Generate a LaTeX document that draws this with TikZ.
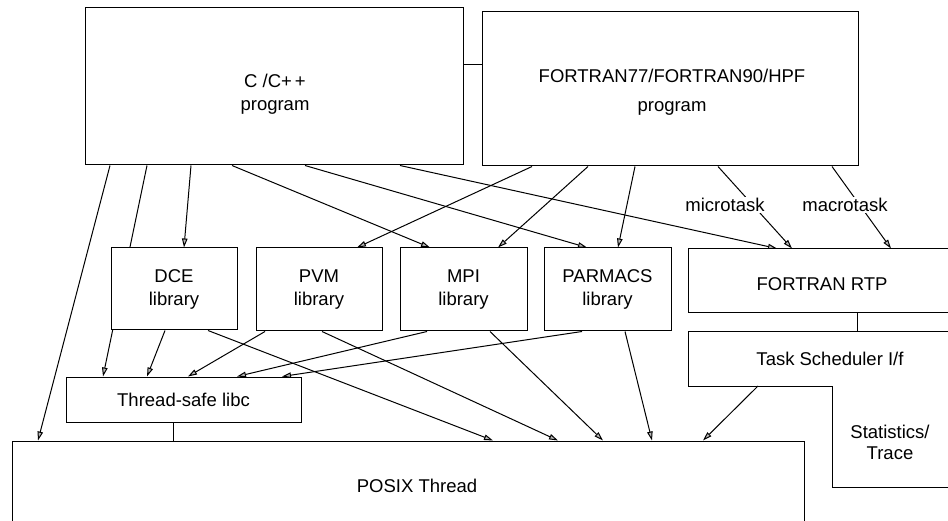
\documentclass[tikz,border=0pt]{standalone}
\usepackage{fontspec}
\setmainfont{Liberation Sans}
\usetikzlibrary{arrows.meta}

\pgfdeclarelayer{lines}
\pgfsetlayers{lines,main}

\begin{document}
\begin{tikzpicture}[x=1pt,y=-1pt,
  every node/.style={font=\fontsize{18.5}{23}\selectfont},
  box/.style={draw, fill=white, line width=1pt, inner sep=0pt},
  txt/.style={align=center, inner sep=0pt},
  lbl/.style={fill=white, inner sep=1.5pt},
  link/.style={line width=1pt},
  arr/.style={line width=1pt, -{Triangle[length=9pt,width=5.5pt,fill=gray!55]}},
]
\useasboundingbox (0,0) rectangle (948,521);

% program level
\node[box, minimum width=378, minimum height=157] (cpp)  at (274,86.5) {};
\node[box, minimum width=376, minimum height=154] (fort) at (670,89)   {};
\node[txt] (cpptxt)  at (275,94)   {C /C+\kern3pt+\\program};
\node[txt] (forttxt) at (672,92.5) {FORTRAN77/FORTRAN90/HPF\\[6pt]program};
\draw[link] (cpp.east |- 0,65) -- (fort.west |- 0,65);

% libraries
\node[box, txt, minimum width=126, minimum height=82] (dce)  at (174,289)     {DCE\\library};
\node[box, txt, minimum width=126, minimum height=83] (pvm)  at (319,289.5)   {PVM\\library};
\node[box, txt, minimum width=127, minimum height=83] (mpi)  at (463.5,289.5) {MPI\\library};
\node[box, txt, minimum width=127, minimum height=83] (parm) at (607.5,289.5) {PARMACS\\library};
\node[box, minimum width=272, minimum height=64] (rtp)  at (824,281) {};
\node[txt] (rtptxt) at (822,284) {FORTRAN RTP};

% scheduler / statistics block, open to the right
\draw[link] (960,332) -- (688,332) -- (688,386) -- (832,386) -- (832,487) -- (960,487);
\coordinate (tskt) at (857,332);
\coordinate (tskb) at (758,386);
\node[txt] (tsk)  at (830,359) {Task Scheduler I/f};
\node[txt] (stat) at (890,442) {Statistics/\\[-2pt]Trace};
\draw[link] (rtp.south -| tskt) -- (tskt);

% runtime level
\node[box, txt, minimum width=235, minimum height=45] (libc) at (183.5,399.5) {Thread-safe libc};
\node[box, minimum width=792, minimum height=100] (posix) at (408,491) {};
\node[txt] (posixtxt) at (417,486) {POSIX Thread};
\coordinate (lc) at (173,422);
\draw[link] (libc.south -| lc) -- (posix.north -| lc);

\node[lbl] (micro) at (725,205) {microtask};
\node[lbl] (macro) at (845,205) {macrotask};

\begin{pgfonlayer}{lines}
% from C/C++
\draw[arr] (cpp.south -| 110,0) -- (posix.north -| 38,0);
\draw[arr] (cpp.south -| 147,0) -- (libc.north -| 103,0);
\draw[arr] (cpp.south -| 191,0) -- (dce.north -| 184,0);
\draw[arr] (cpp.south -| 232,0) -- (mpi.north -| 430,0);
\draw[arr] (cpp.south -| 305,0) -- (parm.north -| 587,0);
\draw[arr] (cpp.south -| 400,0) -- (rtp.north -| 777,0);
% from FORTRAN
\draw[arr] (fort.south -| 532,0) -- (pvm.north -| 357,0);
\draw[arr] (fort.south -| 588,0) -- (mpi.north -| 498,0);
\draw[arr] (fort.south -| 635,0) -- (parm.north -| 618,0);
\draw[arr] (fort.south -| 718,0) -- (rtp.north -| 792,0);
\draw[arr] (fort.south -| 832,0) -- (rtp.north -| 891,0);
% libraries down to libc and threads
\draw[arr] (dce.south -| 165,0)  -- (libc.north -| 147,0);
\draw[arr] (dce.south -| 208,0)  -- (posix.north -| 493,0);
\draw[arr] (pvm.south -| 265,0)  -- (libc.north -| 188,0);
\draw[arr] (pvm.south -| 322,0)  -- (posix.north -| 558,0);
\draw[arr] (mpi.south -| 427,0)  -- (libc.north -| 237,0);
\draw[arr] (mpi.south -| 490,0)  -- (posix.north -| 603,0);
\draw[arr] (parm.south -| 582,0) -- (libc.north -| 282,0);
\draw[arr] (parm.south -| 625,0) -- (posix.north -| 652,0);
\draw[arr] (tskb) -- (posix.north -| 703,0);
\end{pgfonlayer}
\end{tikzpicture}
\end{document}
